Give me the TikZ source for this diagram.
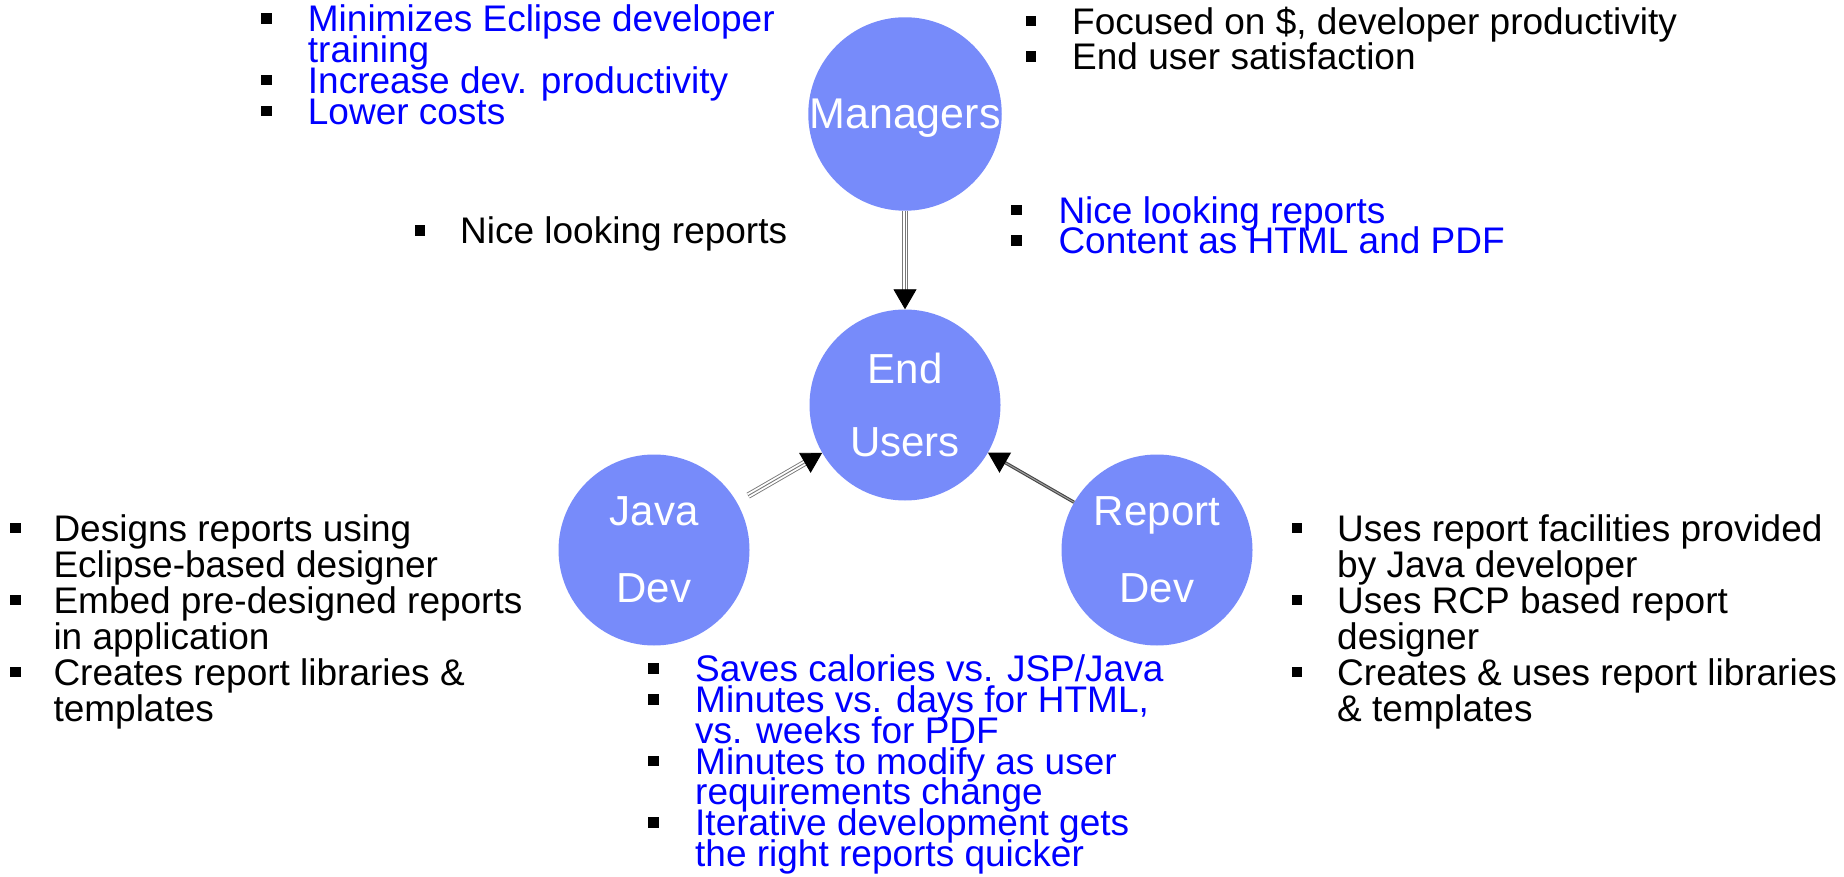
\documentclass[tikz,border=0pt]{standalone}
\usepackage{fontspec}
\setmainfont{Liberation Sans}
\usetikzlibrary{arrows.meta}
\definecolor{circfill}{RGB}{119,139,250}
\definecolor{txtblue}{RGB}{0,0,255}
\definecolor{arrgray}{RGB}{120,120,120}
\definecolor{arrdark}{RGB}{70,70,70}
\newlength\bulgap
\newcommand\bitem[1]{\hbox{\llap{\textcolor{black}{\rule[8pt]{10.5pt}{10.5pt}}\hspace{\bulgap}}#1}}
\newcommand\citem[1]{\hbox{#1}}
\newcommand\blines[2]{\vtop{\baselineskip=#1\lineskiplimit=-100pt\relax #2}}
\tikzset{
  lst/.style={inner sep=0pt, anchor=base west, font=\fontsize{37}{37}\selectfont},
  blk/.style={lst, text=black},
  blu/.style={lst, text=txtblue},
  actor/.style={circle, fill=circfill, minimum size=191pt, inner sep=0pt, text=white},
  tripleline/.style={draw=arrgray, line width=0.9pt, double=white, double distance=4.6pt, shorten >=12pt},
  midline/.style={draw=arrgray, line width=0.9pt, -{Triangle[length=20pt,width=23pt,color=black]}},
  thickline/.style={draw=arrdark, line width=3.2pt, shorten >=12pt},
  thickmid/.style={draw=arrgray!70, line width=1pt, -{Triangle[length=20pt,width=23pt,color=black]}}
}
\begin{document}
\begin{tikzpicture}[x=1pt,y=-1pt]
\useasboundingbox (0,0) rectangle (1844,877);

% actors
\node[actor, font=\fontsize{43}{47}\selectfont, text depth=0pt] (mg) at (905,114) {Managers};
\node[actor, align=center, font=\fontsize{42}{73}\selectfont] (eu) at (905,405) {End\\Users};
\node[actor, align=center, font=\fontsize{42}{76.5}\selectfont] (jd) at (654,550) {Java\\Dev};
\node[actor, align=center, font=\fontsize{42}{76.5}\selectfont] (rd) at (1157,550) {Report\\Dev};

% connectors
\draw[tripleline] (mg) -- (eu);
\draw[midline] (mg) -- (eu);
\draw[tripleline, shorten <=13pt] (jd) -- (eu);
\draw[midline, shorten <=13pt] (jd) -- (eu);
\draw[thickline] (rd) -- (eu);
\draw[thickmid] (rd) -- (eu);

% lists
\node[blu] (tl) at (307.7,31.7) {\setlength\bulgap{36.2pt}\blines{30.8pt}{%
  \bitem{Minimizes Eclipse developer}\citem{training}%
  \bitem{Increase dev. productivity}\bitem{Lower costs}}};
\node[blk] (tr) at (1072,34.3) {\setlength\bulgap{36pt}\blines{35.7pt}{%
  \bitem{Focused on \$, developer productivity}\bitem{End user satisfaction}}};
\node[blk] (nl) at (460,244) {\setlength\bulgap{35pt}\blines{36pt}{%
  \bitem{Nice looking reports}}};
\node[blu] (nr) at (1058.3,223.3) {\setlength\bulgap{36.6pt}\blines{30.7pt}{%
  \bitem{Nice looking reports}\bitem{Content as HTML and PDF}}};
\node[blk] (bl) at (53.3,541) {\setlength\bulgap{33pt}\blines{36pt}{%
  \bitem{Designs reports using}\citem{Eclipse-based designer}%
  \bitem{Embed pre-designed reports}\citem{in application}%
  \bitem{Creates report libraries \&}\citem{templates}}};
\node[blu] (bm) at (695,681.7) {\setlength\bulgap{36.7pt}\blines{30.8pt}{%
  \bitem{Saves calories vs. JSP/Java}%
  \bitem{Minutes vs. days for HTML,}\citem{vs. weeks for PDF}%
  \bitem{Minutes to modify as user}\citem{requirements change}%
  \bitem{Iterative development gets}\citem{the right reports quicker}}};
\node[blk] (br) at (1337,541) {\setlength\bulgap{34.8pt}\blines{36pt}{%
  \bitem{Uses report facilities provided}\citem{by Java developer}%
  \bitem{Uses RCP based report}\citem{designer}%
  \bitem{Creates \& uses report libraries}\citem{\& templates}}};
\end{tikzpicture}
\end{document}
